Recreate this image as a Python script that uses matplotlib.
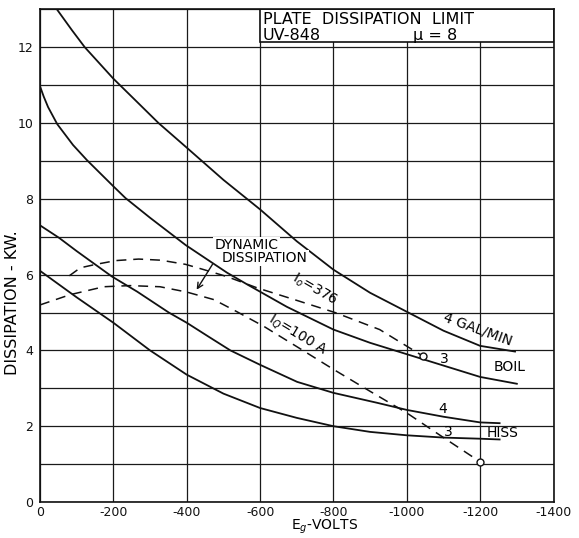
import matplotlib
matplotlib.use('Agg')
import matplotlib.pyplot as plt
from matplotlib.patches import Rectangle

plt.rcParams['font.family'] = ['DejaVu Sans']
plt.rcParams['axes.unicode_minus'] = False

# grid bias (volts) and plate dissipation (kW) for each water flow limit
boil_4_x = [-46, -87, -122, -200, -260, -323, -400, -500, -600, -700, -800, -900, -1000, -1100, -1200, -1295]
boil_4_y = [13.0, 12.45, 12.0, 11.17, 10.6, 10.0, 9.35, 8.5, 7.72, 6.88, 6.13, 5.52, 5.02, 4.52, 4.12, 3.97]

boil_3_x = [0, -10, -22, -47, -90, -128, -200, -233, -300, -397, -510, -565, -673, -800, -900, -1000, -1100, -1200, -1300]
boil_3_y = [10.97, 10.7, 10.42, 9.97, 9.42, 9.02, 8.33, 8.02, 7.5, 6.78, 6.05, 5.74, 5.15, 4.55, 4.2, 3.9, 3.6, 3.3, 3.12]

hiss_4_x = [0, -52, -100, -196, -265, -351, -400, -460, -519, -600, -701, -800, -918, -1000, -1100, -1200, -1253]
hiss_4_y = [7.3, 6.97, 6.62, 5.95, 5.55, 5.0, 4.73, 4.36, 4.0, 3.62, 3.17, 2.88, 2.62, 2.43, 2.25, 2.1, 2.08]

hiss_3_x = [0, -100, -200, -300, -400, -500, -600, -700, -800, -900, -1000, -1100, -1200, -1253]
hiss_3_y = [6.1, 5.4, 4.73, 4.0, 3.36, 2.86, 2.48, 2.22, 2.0, 1.85, 1.76, 1.7, 1.67, 1.65]

# dynamic dissipation curves
dyn_376_x = [-80, -110, -152, -207, -269, -330, -397, -447, -509, -592, -700, -804, -926, -1044]
dyn_376_y = [5.97, 6.18, 6.27, 6.37, 6.41, 6.38, 6.27, 6.13, 5.95, 5.65, 5.32, 5.0, 4.55, 3.85]

dyn_100_x = [0, -82, -174, -245, -327, -400, -474, -537, -611, -700, -800, -900, -1000, -1100, -1200]
dyn_100_y = [5.2, 5.47, 5.68, 5.71, 5.68, 5.54, 5.34, 5.02, 4.63, 4.1, 3.5, 2.92, 2.35, 1.7, 1.06]

x_ticks = [0, -200, -400, -600, -800, -1000, -1200, -1400]
y_ticks = [0, 2, 4, 6, 8, 10, 12]

fig = plt.figure(figsize=(5.79, 5.38), dpi=100)
ax = fig.add_axes([0.0691, 0.0669, 0.8869, 0.9158])
ax.set_xlim(0, -1400)
ax.set_ylim(0, 13)

ax.set_xticks(x_ticks)
ax.set_xticklabels([str(v) for v in x_ticks])
ax.set_yticks(y_ticks)
ax.set_yticks(range(0, 14), minor=True)
ax.tick_params(which='both', length=0, labelsize=9, colors='#111111')
ax.tick_params(axis='x', pad=3)
ax.tick_params(axis='y', pad=5)
ax.set_axisbelow(True)
ax.grid(which='both', color='#1a1a1a', linewidth=0.9)
for s in ax.spines.values():
    s.set_linewidth(1.2)
    s.set_color('#111111')

kw = dict(color='#111111', linewidth=1.3, zorder=3, solid_joinstyle='round')
ax.plot(boil_4_x, boil_4_y, **kw)
ax.plot(boil_3_x, boil_3_y, **kw)
ax.plot(hiss_4_x, hiss_4_y, **kw)
ax.plot(hiss_3_x, hiss_3_y, **kw)

dkw = dict(color='#111111', linewidth=1.1, dashes=(6.5, 4.5), zorder=3)
ax.plot(dyn_376_x, dyn_376_y, **dkw)
ax.plot(dyn_100_x, dyn_100_y, **dkw)
ax.plot([dyn_376_x[-1], dyn_100_x[-1]], [dyn_376_y[-1], dyn_100_y[-1]], 'o',
        markersize=5, markerfacecolor='white', markeredgecolor='#111111',
        markeredgewidth=1.0, zorder=4)

# title block in the upper right corner
ax.add_patch(Rectangle((-600, 12.13), -800, 0.87, facecolor='white',
                       edgecolor='#111111', linewidth=1.2, zorder=2))
ax.text(-608, 12.62, 'PLATE  DISSIPATION  LIMIT', fontsize=11.5, ha='left', va='baseline', zorder=5)
ax.text(-608, 12.2, 'UV-848', fontsize=11.5, ha='left', va='baseline', zorder=5)
ax.text(-1017, 12.2, 'μ = 8', fontsize=11.5, ha='left', va='baseline', zorder=5)

# curve labels
lab = dict(fontsize=10, ha='center', va='center', zorder=5)
ax.text(-1193, 4.55, '4 GAL/MIN', rotation=-20, **lab)
ax.text(-1103, 3.78, '3', **lab)
ax.text(-1280, 3.57, 'BOIL', **lab)
ax.text(-1097, 2.46, '4', **lab)
ax.text(-1113, 1.85, '3', **lab)
ax.text(-1261, 1.82, 'HISS', **lab)
ax.text(-750, 5.6, 'I$_o$=376', rotation=-30, **lab)
ax.text(-704, 4.41, 'I$_Q$=100 A', rotation=-31, **lab)

box = dict(facecolor='white', edgecolor='none', pad=1)
ax.text(-564, 6.78, 'DYNAMIC', bbox=box, **lab)
ax.text(-613, 6.44, 'DISSIPATION', bbox=box, **lab)
ax.annotate('', xy=(-423, 5.54), xytext=(-474, 6.33),
            arrowprops=dict(arrowstyle='->', color='#111111', lw=1.0, mutation_scale=10),
            zorder=5)

fig.text(325 / 579, 1 - 518 / 538, 'E$_g$-VOLTS', fontsize=10, ha='center', va='top')
fig.text(13 / 579, 1 - 303 / 538, 'DISSIPATION - KW.', fontsize=11.5, rotation=90,
         ha='center', va='center')

fig.savefig('out.png', dpi=100)
